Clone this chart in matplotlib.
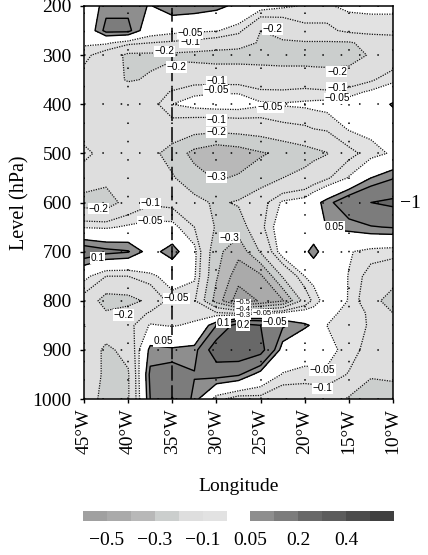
import numpy as np
import matplotlib
matplotlib.use("Agg")
import matplotlib.pyplot as plt
from matplotlib.colors import ListedColormap, BoundaryNorm

plt.rcParams['font.family'] = ['Liberation Serif', 'DejaVu Serif']

longitudes = [-45, -42.5, -40, -37.5, -35, -32.5, -30, -27.5, -25, -22.5, -20, -19, -17.5, -15, -12.5, -10]
levels_hpa = [200, 250, 275, 300, 350, 375, 400, 450, 500, 550, 600, 650, 700, 750, 800, 825, 850, 900, 950, 1000]

r200 = [-.02, .08, .08, .045, .099, .09, .07, .03, -.02, -.04, -.055, -.055, -.055, -.04, -.04, -.04]
r250 = [-.02, .12, .12, -.01, -.03, -.04, -.045, -.08, -.2, -.17, -.12, -.12, -.12, -.08, -.07, -.07]
r275 = [-.04, -.04, -.08, -.1, -.11, -.12, -.14, -.16, -.21, -.21, -.21, -.21, -.21, -.21, -.17, -.15]
r300 = [-.08, -.14, -.22, -.22, -.22, -.23, -.24, -.24, -.24, -.24, -.24, -.245, -.25, -.24, -.19, -.16]
r350 = [-.13, -.15, -.21, -.19, -.14, -.13, -.13, -.13, -.14, -.15, -.15, -.15, -.15, -.15, -.11, -.06]
r375 = [-.14, -.15, -.15, -.13, -.095, -.06, -.055, -.055, -.09, -.09, -.08, -.085, -.09, -.07, -.04, -.02]
r400 = [-.15, -.15, -.15, -.13, -.05, -.03, -.02, -.02, -.04, -.045, -.04, -.035, -.03, -.02, -.01, .06]
r450 = [-.14, -.14, -.14, -.15, -.14, -.16, -.17, -.16, -.15, -.12, -.11, -.10, -.09, -.045, -.03, -.02]
r500 = [-.08, -.13, -.15, -.17, -.24, -.33, -.37, -.35, -.31, -.28, -.24, -.225, -.205, -.12, -.075, -.04]
r550 = [-.14, -.17, -.14, -.14, -.19, -.26, -.31, -.29, -.25, -.2, -.17, -.145, -.11, -.045, .05, .095]
r600 = [-.24, -.25, -.16, -.11, -.12, -.17, -.215, -.19, -.13, -.04, -.02, .02, .075, .16, .2, .22]
r650 = [-.055, -.06, -.04, -.03, -.03, -.1, -.21, -.25, -.12, 0, -.005, -.02, .055, .07, .095, .105]
r700 = [.15, .12, .105, .02, .085, -.03, -.27, -.37, -.19, -.01, .03, .08, 0, -.045, -.07, -.08]
r750 = [-.03, -.1, -.1, -.06, -.03, -.04, -.29, -.46, -.42, -.19, -.05, -.03, -.01, -.052, -.13, -.15]
r800 = [-.13, -.24, -.23, -.18, -.065, -.09, -.34, -.56, -.49, -.41, -.16, -.08, -.02, -.052, -.16, -.25]
r825 = [-.13, -.19, -.16, -.09, -.065, -.07, -.09, -.11, -.07, -.035, -.01, -.02, -.03, -.07, -.11, -.2]
r850 = [-.097, -.14, -.12, -.045, -.055, -.04, .1, .25, .2, .11, .06, .04, -.05, -.08, -.105, -.12]
r900 = [-.13, -.22, -.17, .07, .06, .07, .27, .28, .24, .02, -.02, -.025, -.03, -.07, -.13, -.13]
r950 = [-.13, -.22, -.21, .115, .14, .105, .13, .11, .02, -.055, -.065, -.062, -.06, -.105, -.19, -.18]
r1000 = [-.15, -.23, -.21, .1, .205, .08, -.08, -.13, -.12, -.16, -.16, -.155, -.15, -.21, -.25, -.25]

field = np.array([r200, r250, r275, r300, r350, r375, r400, r450, r500, r550,
                  r600, r650, r700, r750, r800, r825, r850, r900, r950, r1000])

bounds = [-.6, -.5, -.4, -.3, -.2, -.1, -.05, .05, .1, .2, .3, .4, .5, .6]
colors = ['#a0a0a0', '#aaaaaa', '#b8b8b8', '#cbcecd', '#dedede', '#e2e2e2', '#ffffff',
          '#8e8e8e', '#7c7c7c', '#686868', '#5c5c5c', '#4c4c4c', '#404040']
neg_lines = [-.5, -.4, -.3, -.2, -.1, -.05]
pos_lines = [.05, .1, .2, .3, .4, .5]

lon_ticks = [-45, -40, -35, -30, -25, -20, -15, -10]
lon_labels = ['45°W', '40°W', '35°W', '30°W', '25°W', '20°W', '15°W', '10°W']
lev_ticks = [200, 300, 400, 500, 600, 700, 800, 900, 1000]

contour_labels = [
    ('−0.1', -33, 274, 7.2), ('−0.05', -33, 255, 7.2), ('−0.2', -23.7, 247, 7.2), ('−0.2', -35.9, 292, 7.2),
    ('−0.2', -34.5, 324, 7.2), ('−0.2', -16.35, 334, 7.2), ('−0.1', -30, 353, 7.2), ('−0.05', -30, 372, 7.2),
    ('−0.1', -16.35, 367, 7.2), ('−0.05', -16.35, 388, 7.2), ('−0.05', -23.9, 406, 7.2), ('−0.1', -30, 432, 7.2),
    ('−0.2', -30, 457, 7.2), ('−0.3', -30, 548, 7.2), ('−0.2', -43.4, 613, 7.2), ('−0.1', -37.5, 602, 7.2),
    ('−0.05', -37.5, 638, 7.2), ('0.05', -16.6, 650, 7.2), ('−0.3', -28.5, 672, 7.2), ('0.1', -43.5, 713, 7.2),
    ('−0.05', -34.5, 795, 7.2), ('−0.2', -40.5, 829, 7.2), ('0.05', -36, 882, 7.2),
    ('−0.5', -27, 804, 5.5), ('−0.4', -27, 817, 5.5), ('−0.3', -27, 830, 5.5), ('−0.05', -24.8, 825, 5.5),
    ('0.1', -29.2, 845, 7), ('−0.05', -23.4, 843, 7), ('0.2', -27, 850, 7),
    ('−0.05', -18, 941, 7.2), ('−0.1', -18, 978, 7.2),
]

cbar_ticks = [1, 3, 5, 7, 9, 11]
cbar_labels = ['−0.5', '−0.3', '−0.1', '0.05', '0.2', '0.4']

W, H = 428, 555
fig = plt.figure(figsize=(W / 100, H / 100), dpi=100)
ax = fig.add_axes([84 / W, 1 - 399 / H, 309 / W, 393 / H])

cmap = ListedColormap(colors)
norm = BoundaryNorm(bounds, cmap.N)
ax.contourf(longitudes, levels_hpa, field, levels=bounds, cmap=cmap, norm=norm)
ax.contour(longitudes, levels_hpa, field, levels=neg_lines, colors='#111111',
           linewidths=0.9, linestyles=[(0, (1, 1))])
ax.contour(longitudes, levels_hpa, field, levels=pos_lines, colors='black',
           linewidths=1.0, linestyles='solid')

ax.set_xlim(-45, -10)
ax.set_ylim(1000, 200)
ax.set_xticks(lon_ticks)
ax.set_xticklabels(lon_labels, rotation=90, fontsize=14)
ax.set_yticks(lev_ticks)
ax.tick_params(axis='y', labelsize=14, length=3, width=1, pad=6)
ax.tick_params(axis='x', length=3, width=1, pad=4)
ax.grid(True, color='black', linewidth=1.1, linestyle=(0, (1, 11)))
ax.set_axisbelow(False)
for s in ax.spines.values():
    s.set_linewidth(1.1)

ax.axvline(-35, color='black', lw=1.1, linestyle=(0, (9, 4)))

for txt, x, y, fs in contour_labels:
    ax.text(x, y, txt, fontsize=fs, family=['Liberation Sans'], ha='center', va='center',
            bbox=dict(facecolor='white', edgecolor='none', pad=0.4), clip_on=True)

ax.set_xlabel('Longitude', fontsize=14, labelpad=17)
ax.set_ylabel('Level (hPa)', fontsize=14.5, labelpad=2)
fig.text(410 / W, 1 - 204 / H, '−1', fontsize=14, ha='center', va='center')

cax = fig.add_axes([83 / W, 1 - 521 / H, 311 / W, 10 / H])
cax.pcolormesh(np.arange(14), [0, 1], np.arange(13).reshape(1, 13), cmap=cmap,
               vmin=0, vmax=12, shading='flat')
cax.set_xlim(0, 13)
cax.set_yticks([])
cax.set_xticks(cbar_ticks)
cax.set_xticklabels(cbar_labels, fontsize=14)
cax.tick_params(axis='x', length=0, pad=8)
for s in cax.spines.values():
    s.set_visible(False)

fig.savefig('out.png', dpi=100)
